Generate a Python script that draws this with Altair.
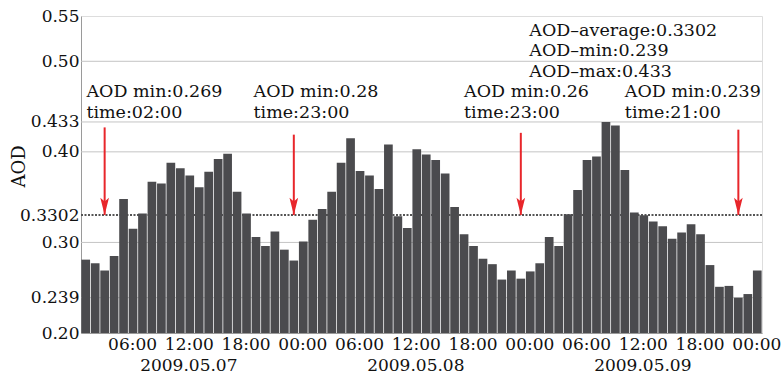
import json
import altair as alt
import pandas as pd

# ---- data ----
aod = [0.281, 0.277, 0.269, 0.285, 0.348, 0.315, 0.332, 0.367, 0.365, 0.388, 0.382, 0.374,
       0.361, 0.378, 0.392, 0.398, 0.356, 0.332, 0.306, 0.296, 0.312, 0.292, 0.280, 0.301,
       0.325, 0.337, 0.356, 0.388, 0.415, 0.379, 0.374, 0.359, 0.408, 0.329, 0.316, 0.403,
       0.397, 0.391, 0.376, 0.339, 0.309, 0.296, 0.282, 0.276, 0.259, 0.269, 0.260, 0.268,
       0.277, 0.306, 0.296, 0.331, 0.358, 0.391, 0.395, 0.433, 0.429, 0.380, 0.333, 0.330,
       0.323, 0.318, 0.304, 0.311, 0.320, 0.309, 0.275, 0.251, 0.252, 0.239, 0.243, 0.269]

tick_hours = [5, 11, 17, 23, 29, 35, 41, 47, 53, 59, 65, 71]
tick_labels = ["06:00", "12:00", "18:00", "00:00"] * 3
date_hours = [11, 35, 59]
date_labels = ["2009.05.07", "2009.05.08", "2009.05.09"]

y_ticks = [0.20, 0.239, 0.30, 0.3302, 0.40, 0.433, 0.50, 0.55]
y_tick_labels = ["0.20", "0.239", "0.30", "0.3302", "0.40", "0.433", "0.50", "0.55"]
grid_vals = [0.239, 0.30, 0.40, 0.433, 0.50]
mean_val = 0.3302

min_idx = [2, 22, 46, 69]
min_vals = ["0.269", "0.28", "0.26", "0.239"]
min_times = ["02:00", "23:00", "23:00", "21:00"]
arrow_top = [0.427, 0.419, 0.421, 0.4245]
label_x = [0.57, 18.24, 40.5, 57.5]
label_y1 = 0.461
label_y2 = 0.4377
date_y = 0.1585

stats_lines = ["AOD\u2013average:0.3302", "AOD\u2013min:0.239", "AOD\u2013max:0.433"]
stats_x = 47.4
stats_y = [0.5277, 0.5057, 0.483]

FONT = "DejaVu Serif"
RED = "#e8262b"
BAR = "#4b4b4e"

n = len(aod)
xs = alt.Scale(domain=[0, n], nice=False, zero=False)
ys = alt.Scale(domain=[0.20, 0.55], nice=False, zero=False)

bars_df = pd.DataFrame({
    "x0": [i + 0.04 for i in range(n)],
    "x1": [i + 0.96 for i in range(n)],
    "aod": aod,
    "base": [0.20] * n,
})

TICK_SHIFT = 0.4
tick_vals = [h + TICK_SHIFT for h in tick_hours]
x_label_expr = "%s[round((datum.value - %s) / 6)]" % (json.dumps(tick_labels), tick_vals[0])
y_label_expr = "%s[indexof(%s, datum.value)]" % (json.dumps(y_tick_labels), json.dumps(y_ticks))

YAX = alt.Axis(
    values=y_ticks, labelExpr=y_label_expr, title="AOD", grid=False, ticks=False,
    domain=True, domainColor="#9a9a9a", labelPadding=2, labelFontSize=17,
    labelColor="#111", labelFont=FONT, titleFont=FONT, titleFontSize=18,
    titleFontWeight="normal", titleColor="#111", titleAngle=270, titleX=-62,
    titleY=150, titleBaseline="middle", titleAlign="center",
    labelOverlap=False, labelFlush=False, labelBound=False)
XAX = alt.Axis(
    values=tick_vals, labelExpr=x_label_expr, title=None, grid=False, ticks=False,
    domain=True, domainColor="#9a9a9a", labelPadding=3, labelFontSize=17,
    labelColor="#111", labelFont=FONT, labelAngle=0,
    labelOverlap=False, labelFlush=False, labelBound=False)


def Y(field):
    return alt.Y(field, scale=ys, axis=YAX, title="AOD")


def X(field):
    return alt.X(field, scale=xs, axis=XAX, title=None)


grid = alt.Chart(pd.DataFrame({"g": grid_vals})).mark_rule(
    color="#c4c4c4", strokeWidth=1
).encode(y=Y("g:Q"))

mean_line = alt.Chart(pd.DataFrame({"m": [mean_val]})).mark_rule(
    color="#555555", strokeWidth=2, strokeDash=[2, 1.5]
).encode(y=Y("m:Q"))

bars = alt.Chart(bars_df).mark_bar(color=BAR, opacity=1).encode(
    x=X("x0:Q"),
    x2="x1:Q",
    y=Y("aod:Q"),
    y2="base:Q",
)

arrows_df = pd.DataFrame({
    "xa": [i + 0.5 for i in min_idx],
    "top": arrow_top,
    "tip": [mean_val] * len(min_idx),
})
shafts = alt.Chart(arrows_df).mark_rule(color=RED, strokeWidth=2).encode(
    x=X("xa:Q"),
    y=Y("top:Q"),
    y2="tip:Q",
)
heads = alt.Chart(arrows_df).mark_point(
    shape="M0,1L-0.5,-1L0,-0.55L0.5,-1Z", size=300, filled=True, color=RED,
    opacity=1, strokeWidth=0, yOffset=-8.7
).encode(
    x=X("xa:Q"),
    y=Y("tip:Q"),
)

text_rows = []
for lx, v, t in zip(label_x, min_vals, min_times):
    text_rows.append({"tx": lx, "ty": label_y1, "txt": "AOD min:" + v})
    text_rows.append({"tx": lx, "ty": label_y2, "txt": "time:" + t})
for s, sy in zip(stats_lines, stats_y):
    text_rows.append({"tx": stats_x, "ty": sy, "txt": s})
texts = alt.Chart(pd.DataFrame(text_rows)).mark_text(
    align="left", baseline="alphabetic", font=FONT, fontSize=17.5, color="#111"
).encode(
    x=X("tx:Q"),
    y=Y("ty:Q"),
    text="txt:N",
)

dates_df = pd.DataFrame({
    "dx": [h + TICK_SHIFT for h in date_hours],
    "dy": [date_y] * len(date_hours),
    "dt": date_labels,
})
dates = alt.Chart(dates_df).mark_text(
    align="center", baseline="alphabetic", font=FONT, fontSize=17, color="#111"
).encode(
    x=X("dx:Q"),
    y=Y("dy:Q"),
    text="dt:N",
)

chart = alt.layer(grid, mean_line, bars, shafts, heads, texts, dates).properties(
    width=681, height=317,
    autosize=alt.AutoSizeParams(type="none"),
    padding={"left": 81, "top": 16, "right": 21, "bottom": 43},
    background="white",
).configure_view(stroke="#a8a8a8", strokeWidth=1).configure(font=FONT)

chart.save("out.html", embed_options={"renderer": "svg", "actions": False})
